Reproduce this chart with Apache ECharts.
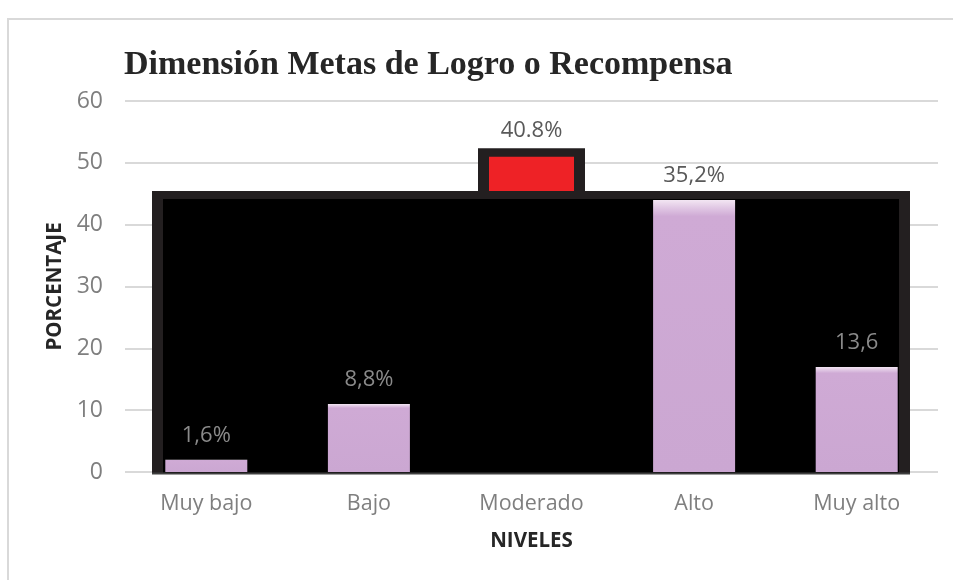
<!DOCTYPE html>
<html>
<head>
<meta charset="utf-8">
<script src="https://cdn.jsdelivr.net/npm/echarts@6/dist/echarts.min.js"></script>
<style>html,body{margin:0;padding:0;background:#fff}#c{width:953px;height:580px}</style>
</head>
<body>
<div id="c"></div>
<script>
var categories = ['Muy bajo', 'Bajo', 'Moderado', 'Alto', 'Muy alto'];
var values = [2, 11, 51, 44, 17];
var labels = ['1,6%', '8,8%', '40.8%', '35,2%', '13,6'];
var highlightIndex = 2;
var yTicks = [0, 10, 20, 30, 40, 50, 60];

var chart = echarts.init(document.getElementById('c'), null, {renderer: 'canvas'});

var purpleFill = new echarts.graphic.LinearGradient(0, 0, 0, 1, [
  {offset: 0, color: '#f3e6f3'},
  {offset: 0.025, color: '#e3cce6'},
  {offset: 0.06, color: '#cfaad5'},
  {offset: 1, color: '#cba7d2'}
]);

var mainData = values.map(function (v, i) {
  if (i === highlightIndex) return '-';
  return {value: v, label: {color: (i === 3 ? '#595959' : '#8a8a8a')}};
});
var highData = values.map(function (v, i) {
  return i === highlightIndex ? v : '-';
});

var baseGraphics = [
  {type: 'rect', z: -10, silent: true, shape: {x: 8, y: 19, width: 980, height: 620},
   style: {fill: 'none', stroke: '#d9d9d9', lineWidth: 2}},
  {type: 'rect', z: 1.5, silent: true, shape: {x: 152, y: 191, width: 758, height: 282},
   style: {fill: '#231f20'}},
  {type: 'rect', z: 1.5, silent: true, shape: {x: 163, y: 199, width: 736, height: 274},
   style: {fill: '#000000'}},
  {type: 'line', z: 1.5, silent: true, shape: {x1: 152, y1: 473.5, x2: 910, y2: 473.5},
   style: {stroke: '#3f3f3f', lineWidth: 2}}
];

chart.setOption({
  animation: false,
  title: {
    text: 'Dimensión Metas de Logro o Recompensa',
    left: 119, top: 43,
    textStyle: {fontFamily: 'Liberation Serif', fontWeight: 'bold', fontSize: 34, color: '#262626'}
  },
  grid: {left: 125, right: 15, top: 101, bottom: 108},
  xAxis: [{
    type: 'category', data: categories,
    axisLine: {show: false}, axisTick: {show: false},
    axisLabel: {color: '#7f7f7f', fontFamily: 'Open Sans', fontSize: 21.5, margin: 21},
    name: 'NIVELES', nameLocation: 'middle', nameGap: 59,
    nameTextStyle: {fontFamily: 'Open Sans', fontWeight: 'bold', fontSize: 20.5, color: '#262626'}
  }, {
    type: 'category', data: categories, show: false
  }],
  yAxis: {
    type: 'value', min: 0, max: 60, interval: 10,
    axisLine: {show: false}, axisTick: {show: false},
    axisLabel: {color: '#7f7f7f', fontFamily: 'Open Sans', fontSize: 23, margin: 22},
    splitLine: {lineStyle: {color: '#d9d9d9', width: 2}},
    name: 'PORCENTAJE', nameLocation: 'middle', nameGap: 57, nameRotate: 90,
    nameTextStyle: {fontFamily: 'Open Sans', fontWeight: 'bold', fontSize: 20.5, color: '#262626'}
  },
  graphic: baseGraphics,
  series: [{
    type: 'bar', xAxisIndex: 1, z: 1.2, data: highData, barWidth: 85,
    itemStyle: {color: '#ee2226'},
    label: {show: true, position: 'top', distance: 15, color: '#595959',
      fontFamily: 'Open Sans', fontSize: 22,
      formatter: function (p) { return labels[p.dataIndex]; }}
  }, {
    type: 'bar', xAxisIndex: 0, z: 3, data: mainData, barWidth: 82,
    itemStyle: {color: purpleFill},
    label: {show: true, position: 'top', distance: 13,
      fontFamily: 'Open Sans', fontSize: 22,
      formatter: function (p) { return labels[p.dataIndex]; }}
  }]
});

// dark frame behind the highlighted bar, placed from the axis scale
var topPt = chart.convertToPixel({xAxisIndex: 1, yAxisIndex: 0}, [highlightIndex, values[highlightIndex]]);
var frame = {type: 'rect', z: 1.1, silent: true,
  shape: {x: topPt[0] - 53.5, y: topPt[1] - 8.5, width: 107, height: 200 - (topPt[1] - 8.5)},
  style: {fill: '#231f20'}};
chart.setOption({graphic: baseGraphics.concat([frame])}, {replaceMerge: ['graphic']});
</script>
</body>
</html>
